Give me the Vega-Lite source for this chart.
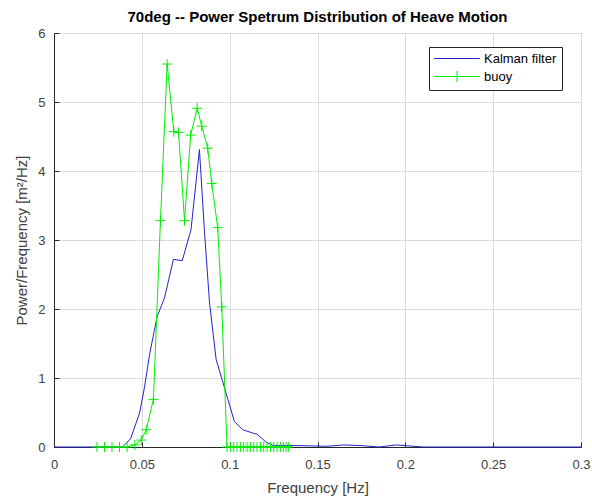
{
  "$schema": "https://vega.github.io/schema/vega-lite/v6.json",
  "autosize": {"type": "none"},
  "padding": {"left": 54, "top": 33, "right": 11, "bottom": 53},
  "width": 527,
  "height": 414,
  "background": "white",
  "title": {
    "text": "70deg -- Power Spetrum Distribution of Heave Motion",
    "font": "Liberation Sans",
    "fontSize": 15,
    "fontWeight": "bold",
    "color": "#000000",
    "anchor": "middle",
    "offset": 2
  },
  "config": {
    "view": {"stroke": "#262626", "strokeWidth": 1},
    "font": "Liberation Sans"
  },
  "datasets": {
    "kalman": [
      {"f": 0, "p": 0}, {"f": 0.039, "p": 0}, {"f": 0.0436, "p": 0.12}, {"f": 0.0487, "p": 0.49},
      {"f": 0.0515, "p": 0.86}, {"f": 0.0544, "p": 1.34}, {"f": 0.0587, "p": 1.89}, {"f": 0.0629, "p": 2.16},
      {"f": 0.068, "p": 2.72}, {"f": 0.073, "p": 2.70}, {"f": 0.078, "p": 3.15}, {"f": 0.0828, "p": 4.31},
      {"f": 0.0856, "p": 3.15}, {"f": 0.0885, "p": 2.1}, {"f": 0.0923, "p": 1.27}, {"f": 0.096, "p": 0.95},
      {"f": 0.1027, "p": 0.37}, {"f": 0.1074, "p": 0.25}, {"f": 0.1159, "p": 0.18}, {"f": 0.1207, "p": 0.07},
      {"f": 0.125, "p": 0.02}, {"f": 0.14, "p": 0.02}, {"f": 0.155, "p": 0.01}, {"f": 0.165, "p": 0.03},
      {"f": 0.175, "p": 0.02}, {"f": 0.185, "p": 0.0}, {"f": 0.195, "p": 0.03}, {"f": 0.2, "p": 0.02},
      {"f": 0.21, "p": 0.0}, {"f": 0.3, "p": 0.0}
    ],
    "buoy": [
      {"f": 0.0245, "p": 0}, {"f": 0.0288, "p": 0}, {"f": 0.033, "p": 0}, {"f": 0.0373, "p": 0},
      {"f": 0.0416, "p": 0}, {"f": 0.046, "p": 0.03}, {"f": 0.0497, "p": 0.1}, {"f": 0.0525, "p": 0.25},
      {"f": 0.0566, "p": 0.69}, {"f": 0.0606, "p": 3.28}, {"f": 0.0644, "p": 5.55}, {"f": 0.0682, "p": 4.57},
      {"f": 0.0709, "p": 4.56}, {"f": 0.0743, "p": 3.28}, {"f": 0.0778, "p": 4.52}, {"f": 0.0815, "p": 4.91},
      {"f": 0.0841, "p": 4.65}, {"f": 0.0875, "p": 4.33}, {"f": 0.0898, "p": 3.82}, {"f": 0.0932, "p": 3.18},
      {"f": 0.0955, "p": 2.03}, {"f": 0.0985, "p": 0}, {"f": 0.1004, "p": 0}, {"f": 0.1023, "p": 0},
      {"f": 0.1042, "p": 0}, {"f": 0.1061, "p": 0}, {"f": 0.108, "p": 0}, {"f": 0.1099, "p": 0},
      {"f": 0.1118, "p": 0}, {"f": 0.1137, "p": 0}, {"f": 0.1156, "p": 0}, {"f": 0.1175, "p": 0},
      {"f": 0.1194, "p": 0}, {"f": 0.1213, "p": 0}, {"f": 0.1232, "p": 0}, {"f": 0.1251, "p": 0},
      {"f": 0.127, "p": 0}, {"f": 0.1289, "p": 0}, {"f": 0.1306, "p": 0}, {"f": 0.1321, "p": 0},
      {"f": 0.1334, "p": 0}
    ]
  },
  "encoding": {
    "x": {
      "field": "f", "type": "quantitative",
      "scale": {"domain": [0, 0.3], "nice": false, "zero": false},
      "axis": {
        "values": [0, 0.05, 0.1, 0.15, 0.2, 0.25, 0.3],
        "format": "~g",
        "title": "Frequency [Hz]",
        "titleFont": "Liberation Sans", "titleFontSize": 15, "titleFontWeight": "normal", "titleColor": "#404040",
        "titlePadding": 9,
        "labelFont": "Liberation Sans", "labelFontSize": 13, "labelColor": "#404040", "labelPadding": 16,
        "domainColor": "#262626", "tickColor": "#262626", "tickSize": -5,
        "grid": true, "gridColor": "#dcdcdc", "labelFlush": false
      }
    },
    "y": {
      "field": "p", "type": "quantitative",
      "scale": {"domain": [0, 6], "nice": false},
      "axis": {
        "values": [0, 1, 2, 3, 4, 5, 6],
        "title": "Power/Frequency [m²/Hz]",
        "titleFont": "Liberation Sans", "titleFontSize": 15, "titleFontWeight": "normal", "titleColor": "#404040",
        "titlePadding": 8,
        "labelFont": "Liberation Sans", "labelFontSize": 13, "labelColor": "#404040", "labelPadding": 14,
        "domainColor": "#262626", "tickColor": "#262626", "tickSize": -5,
        "grid": true, "gridColor": "#dcdcdc", "labelFlush": false
      }
    }
  },
  "layer": [
    {
      "data": {"name": "kalman"},
      "transform": [{"calculate": "'Kalman filter'", "as": "series"}],
      "mark": {"type": "line", "strokeWidth": 1, "clip": false},
      "encoding": {
        "color": {
          "field": "series", "type": "nominal",
          "scale": {"domain": ["Kalman filter", "buoy"], "range": ["#2323c8", "#00ee00"]},
          "legend": {
            "orient": "none", "legendX": 375, "legendY": 14,
            "title": null,
            "symbolType": "M-4,0H4", "symbolSize": 130, "symbolStrokeWidth": 1,
            "labelFont": "Liberation Sans", "labelFontSize": 13, "labelColor": "#000000",
            "strokeColor": "#262626", "fillColor": "white", "padding": 5, "rowPadding": 2,
            "labelOffset": 37, "cornerRadius": 0,
            "encode": {
              "symbols": {"update": {
                "shape": {"signal": "datum.value === 'buoy' ? 'M-4,0H4M0,-1V1' : 'M-4,0H4'"},
                "stroke": {"signal": "datum.value === 'buoy' ? '#00ee00' : '#2323c8'"},
                "fill": {"value": "transparent"},
                "x": {"value": 23}
              }}
            }
          }
        }
      }
    },
    {
      "data": {"name": "buoy"},
      "transform": [{"calculate": "'buoy'", "as": "series"}],
      "mark": {"type": "line", "strokeWidth": 1, "clip": false},
      "encoding": {"color": {"field": "series", "type": "nominal"}}
    },
    {
      "data": {"name": "buoy"},
      "mark": {"type": "point", "shape": "M-1,0H1M0,-1V1", "size": 100, "filled": false, "stroke": "#00ee00", "strokeWidth": 1, "opacity": 1, "clip": false}
    }
  ]
}
